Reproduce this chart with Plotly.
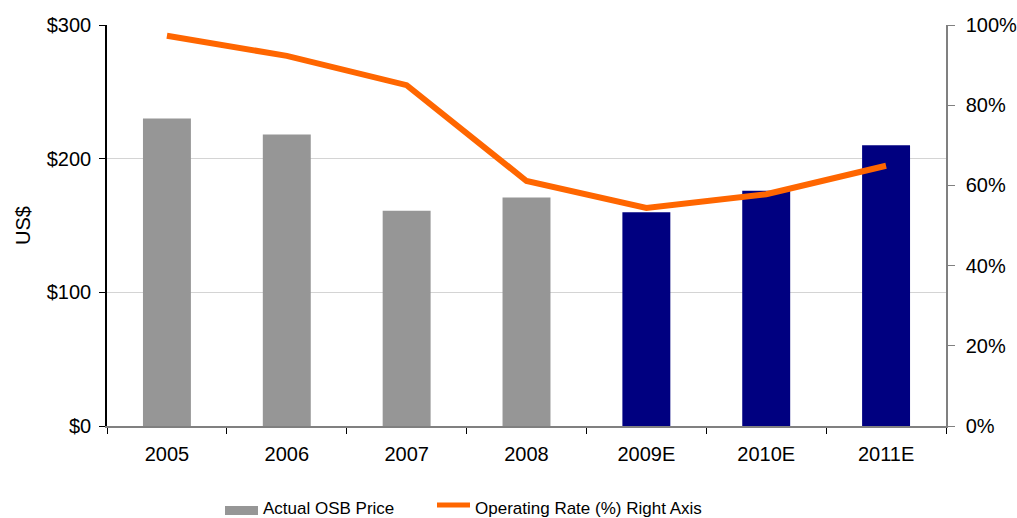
import plotly.graph_objects as go

# OSB price (US$) by year; last three years are estimates
years = ["2005", "2006", "2007", "2008", "2009E", "2010E", "2011E"]
osb_price = [230, 218, 161, 171, 160, 176, 210]
is_estimate = [False, False, False, False, True, True, True]

# Industry operating rate (fraction), plotted on the right axis
operating_rate = [0.973, 0.923, 0.850, 0.611, 0.544, 0.578, 0.649]

price_ticks = [0, 100, 200, 300]
price_tick_text = ["$0", "$100", "$200", "$300"]
rate_ticks = [0, 0.2, 0.4, 0.6, 0.8, 1.0]
rate_tick_text = ["0%", "20%", "40%", "60%", "80%", "100%"]

GRAY = "#969696"
NAVY = "#000080"
ORANGE = "#FF6600"
FONT = "Liberation Sans, Arial, sans-serif"

bar_colors = [NAVY if e else GRAY for e in is_estimate]

fig = go.Figure()
fig.add_trace(go.Bar(
    x=years, y=osb_price, marker=dict(color=bar_colors, line=dict(width=0)),
    width=0.4, name="Actual OSB Price", showlegend=False, yaxis="y",
))
fig.add_trace(go.Scatter(
    x=years, y=operating_rate, mode="lines",
    line=dict(color=ORANGE, width=6), name="Operating Rate (%) Right Axis",
    showlegend=False, yaxis="y2",
))

L, R, T, B = 107, 71, 25, 92
W, H = 1017, 518
pw, ph = W - L - R, H - T - B


def px_x(px):
    return (px - L) / pw


def px_y(py):
    return (H - B - py) / ph


fig.update_layout(
    width=W, height=H,
    margin=dict(l=L, r=R, t=T, b=B, autoexpand=False),
    plot_bgcolor="white", paper_bgcolor="white",
    font=dict(family=FONT, size=20, color="black"),
    bargap=0.6,
    xaxis=dict(
        type="category", showgrid=False, showline=True, linecolor="#808080",
        linewidth=1.5, ticks="outside", tickson="boundaries", ticklen=6,
        tickcolor="black", tickfont=dict(size=20), range=[-0.5, 6.5],
        ticklabelstandoff=9, automargin=False,
    ),
    yaxis=dict(
        range=[0, 300], tickvals=price_ticks, ticktext=price_tick_text,
        showgrid=True, gridcolor="#D4D4D4", gridwidth=1,
        showline=True, linecolor="black", linewidth=1.5,
        ticks="outside", ticklen=6, tickcolor="black", zeroline=False,
        ticklabelstandoff=4, automargin=False,
    ),
    yaxis2=dict(
        range=[0, 1], tickvals=rate_ticks, ticktext=rate_tick_text,
        overlaying="y", side="right", showgrid=False,
        showline=True, linecolor="#808080", linewidth=1.5,
        ticks="outside", ticklen=7, tickcolor="#808080", zeroline=False,
        ticklabelstandoff=7, automargin=False,
    ),
    annotations=[
        dict(text="US$", x=px_x(23), y=px_y(226), xref="paper", yref="paper",
             textangle=-90, showarrow=False, font=dict(size=20),
             xanchor="center", yanchor="middle"),
        dict(text="Actual OSB Price", x=px_x(261), y=px_y(509), xref="paper",
             yref="paper", showarrow=False, xanchor="left", yanchor="middle",
             font=dict(size=17)),
        dict(text="Operating Rate (%) Right Axis", x=px_x(473), y=px_y(509),
             xref="paper", yref="paper", showarrow=False, xanchor="left",
             yanchor="middle", font=dict(size=17)),
    ],
    shapes=[
        dict(type="rect", xref="paper", yref="paper",
             x0=px_x(225), x1=px_x(258), y0=px_y(515), y1=px_y(506),
             fillcolor=GRAY, line=dict(width=0)),
        dict(type="line", xref="paper", yref="paper",
             x0=px_x(437), x1=px_x(470), y0=px_y(505), y1=px_y(505),
             line=dict(color=ORANGE, width=5)),
    ],
)

fig.write_html("out.html")
